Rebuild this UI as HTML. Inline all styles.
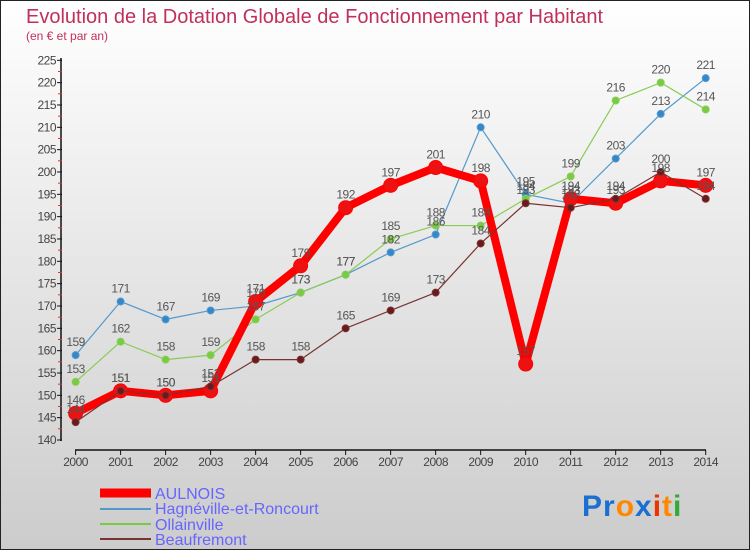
<!DOCTYPE html>
<html><head><meta charset="utf-8"><style>
body{margin:0;width:750px;height:550px;overflow:hidden;font-family:"Liberation Sans",sans-serif}
</style></head><body>
<svg id="c" width="750" height="550" xmlns="http://www.w3.org/2000/svg">
<defs><linearGradient id="bg" x1="0" y1="0" x2="0" y2="1"><stop offset="0" stop-color="#ffffff"/><stop offset="1" stop-color="#cccccc"/></linearGradient></defs>
<rect x="0.5" y="0.5" width="749" height="549" fill="url(#bg)" stroke="#222" stroke-width="1"/>
<text x="26" y="23" font-size="20" fill="#c0305a">Evolution de la Dotation Globale de Fonctionnement par Habitant</text>
<text x="26" y="40" font-size="12" fill="#c0305a">(en € et par an)</text>
<g id="axes"></g><g id="series"></g><g id="labels"></g>
<g>
<line x1="100" y1="493" x2="151" y2="493" stroke="#ff0000" stroke-width="9"/>
<text x="155" y="499" font-size="16" fill="#6666ff">AULNOIS</text>
<line x1="100" y1="509" x2="151" y2="509" stroke="#5599cc" stroke-width="2"/>
<text x="155" y="514" font-size="16" fill="#6666ff">Hagnéville-et-Roncourt</text>
<line x1="100" y1="524" x2="151" y2="524" stroke="#77cc44" stroke-width="2"/>
<text x="155" y="530" font-size="16" fill="#6666ff">Ollainville</text>
<line x1="100" y1="539" x2="151" y2="539" stroke="#7a3333" stroke-width="2"/>
<text x="155" y="545" font-size="16" fill="#6666ff">Beaufremont</text>
</g>
<text x="582" y="516" font-size="30" font-weight="bold" letter-spacing="1"><tspan fill="#1a6fd0">Pr</tspan><tspan fill="#ff8800">o</tspan><tspan fill="#1a6fd0">x</tspan><tspan fill="#ee3300">i</tspan><tspan fill="#ff8800">t</tspan><tspan fill="#33aa33">i</tspan></text>
</svg>
<script>
const years=[2000,2001,2002,2003,2004,2005,2006,2007,2008,2009,2010,2011,2012,2013,2014];
const aulnois=[146,151,150,151,171,179,192,197,201,198,157,194,193,198,197];
const hagneville=[159,171,167,169,170,173,177,182,186,210,195,193,203,213,221];
const ollainville=[153,162,158,159,167,173,177,185,188,188,194,199,216,220,214];
const beaufremont=[144,151,150,152,158,158,165,169,173,184,193,192,194,200,194];
const yTicks=[140,145,150,155,160,165,170,175,180,185,190,195,200,205,210,215,220,225];
const NS="http://www.w3.org/2000/svg";
const X=i=>75.6+i*(705.7-75.6)/(years.length-1);
const Y=v=>440-(v-140)*(440-60.3)/85;
function mk(t,a,p){const e=document.createElementNS(NS,t);for(const k in a)e.setAttribute(k,a[k]);p.appendChild(e);return e;}
const ax=document.getElementById('axes');
let l=mk('line',{x1:61,y1:58,x2:61,y2:441,stroke:'#111','stroke-width':1.5},ax);

l=mk('line',{x1:75,y1:450,x2:706,y2:450,stroke:'#111','stroke-width':1.5},ax);

yTicks.forEach((v,k)=>{const y=Y(v);
 mk('line',{x1:57,y1:y,x2:62,y2:y,stroke:'#111'},ax);
 if(k<yTicks.length-1)mk('line',{x1:58,y1:Y(v+2.5),x2:62,y2:Y(v+2.5),stroke:'#e03030'},ax);
 const t=mk('text',{x:56,y:y+4,'font-size':12,'text-anchor':'end',fill:'#444','letter-spacing':'-0.5'},ax);
 t.textContent=v;});
years.forEach((yr,i)=>{mk('line',{x1:X(i),y1:450,x2:X(i),y2:455,stroke:'#111'},ax);
 const t=mk('text',{x:X(i),y:466,'font-size':12,'text-anchor':'middle',fill:'#444','letter-spacing':'-0.5'},ax);
 t.textContent=yr;});
const sg=document.getElementById('series'),lg=document.getElementById('labels');
function draw(data,name,color,w,r,dot){
 const g=mk('g',{},sg);
 mk('polyline',{points:data.map((v,i)=>X(i)+','+Y(v)).join(' '),fill:'none',stroke:color,'stroke-width':w,'stroke-linejoin':'round'},g);
 data.forEach((v,i)=>{const c=mk('circle',{cx:X(i),cy:Y(v),r:r,fill:dot,stroke:color,'stroke-width':1},g);
  
  const t=mk('text',{x:X(i),y:Y(v)-9,'font-size':12,'text-anchor':'middle',fill:'#555','letter-spacing':'-0.5'},lg);
  t.textContent=v;});
}
draw(hagneville,'hagneville','#5599cc',1.2,3.5,'#3388cc');
draw(ollainville,'ollainville','#88cc55',1.2,3.5,'#77cc44');
draw(aulnois,'aulnois','#ff0000',8,7,'#ee1111');
draw(beaufremont,'beaufremont','#7a3333',1.2,3.5,'#6a1a1a');
</script>
</body></html>
